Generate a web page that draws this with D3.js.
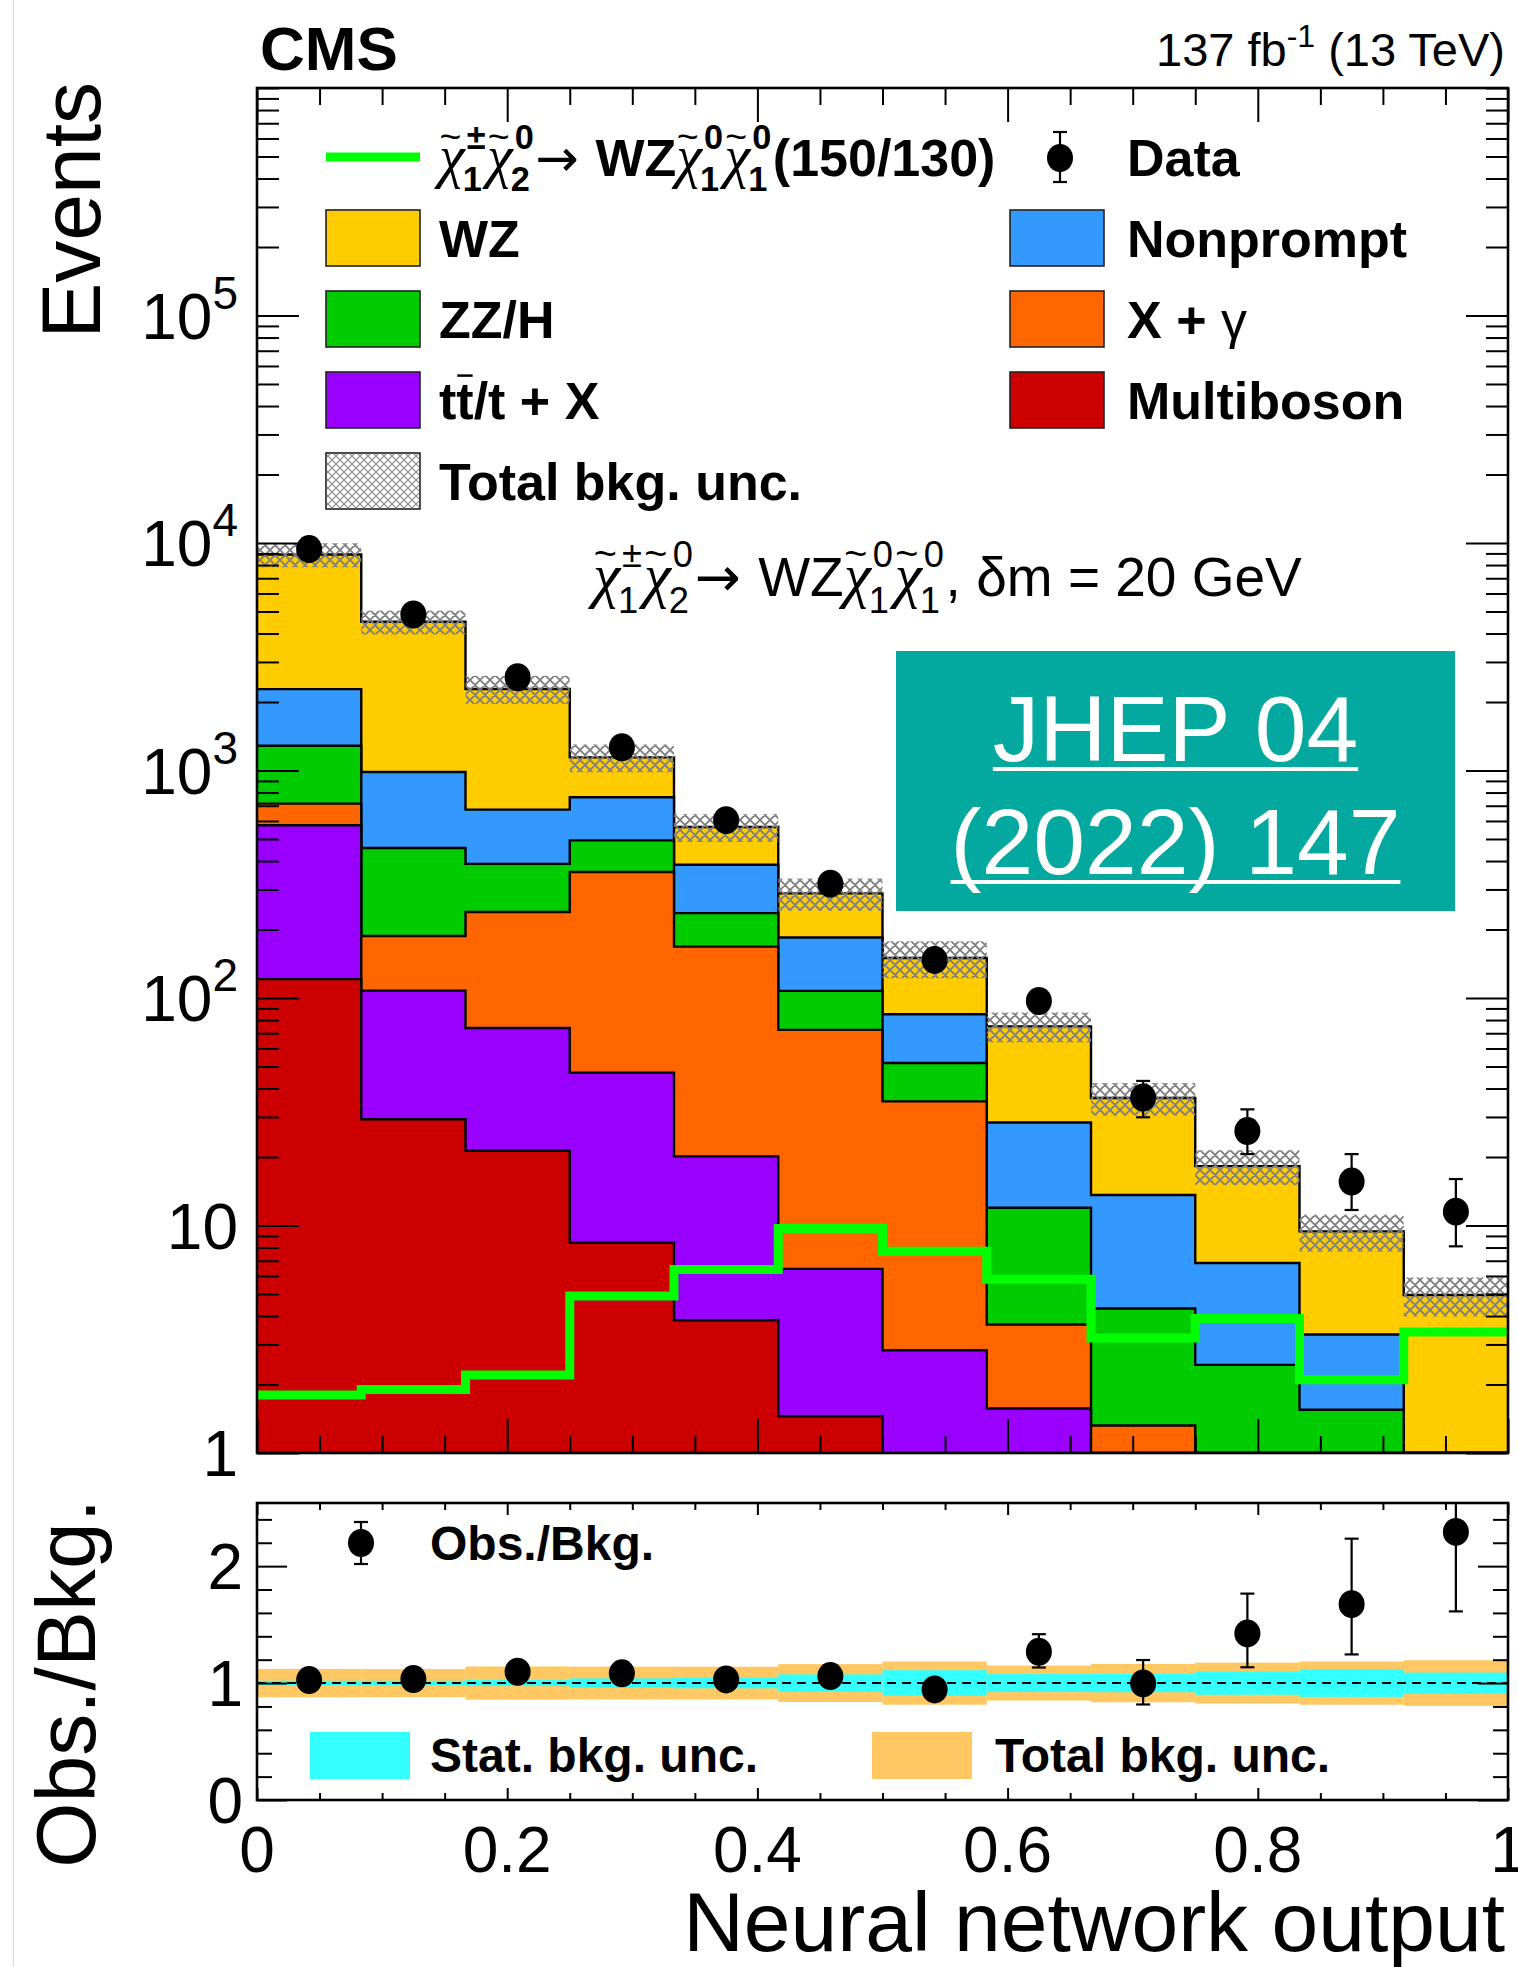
<!DOCTYPE html>
<html>
<head>
<meta charset="utf-8">
<script src="https://cdn.jsdelivr.net/npm/d3@7"></script>
<style>
  body { margin: 0; background: #fff; }
  svg text { font-family: "Liberation Sans", Arial, Helvetica, sans-serif; }
</style>
</head>
<body>
<svg id="chart" width="1518" height="1967"></svg>
<script>
// Neural network output bins (12 equal bins)
const binEdges = [0, 1/12, 2/12, 3/12, 4/12, 5/12, 6/12, 7/12, 8/12, 9/12, 10/12, 11/12, 1];

// background yields per bin, stacked bottom -> top
const multiboson = [121, 29.3, 21.3, 8.4, 3.83, 1.45, 0.63, 0.42, 0.2, 0.1, 0.1, 0.1];
const ttX        = [454, 78.5, 52.5, 38.5, 16.3, 5.0, 2.2, 1.15, 0.42, 0.3, 0.2, 0.1];
const xGamma     = [140, 79.5, 165, 311, 148, 66, 32.3, 2.1, 0.7, 0.3, 0.3, 0.2];
const zzH        = [569, 269, 150, 135, 68, 35, 16.7, 8.3, 3.0, 1.74, 0.95, 0.2];
const nonprompt  = [995, 528, 284, 270, 149, 77, 33, 16.4, 9.3, 4.4, 1.77, 0.3];
const wz         = [6620, 3520, 1610, 379, 179, 104, 65, 46.7, 22.7, 11.4, 6.1, 4.05];

// signal chi1+- chi20 -> WZ chi10 chi10 (150/130)
const signal = [1.8, 1.9, 2.2, 4.9, 6.4, 9.7, 7.7, 5.8, 3.2, 3.9, 2.1, 3.4];

// observed data
const dataCounts = [9400, 4850, 2570, 1265, 605, 318, 147, 97, 36.5, 26, 15.6, 11.5];
const dataErrLo  = [97, 70, 51, 36, 25, 17.8, 12.1, 9.8, 6.6, 5.4, 3.9, 3.4];
const dataErrHi  = [97, 70, 51, 36, 25, 17.8, 12.1, 10.9, 6.7, 6.4, 5.0, 4.5];

// ratio panel
const ratio      = [1.026, 1.034, 1.097, 1.083, 1.031, 1.06, 0.946, 1.268, 0.997, 1.425, 1.675, 2.293];
const ratioErrLo = [0.012, 0.016, 0.022, 0.032, 0.045, 0.062, 0.08, 0.135, 0.18, 0.29, 0.43, 0.68];
const ratioErrHi = [0.012, 0.016, 0.022, 0.033, 0.046, 0.064, 0.085, 0.15, 0.2, 0.34, 0.56, 0.95];
const statUnc    = [0.02, 0.02, 0.026, 0.04, 0.045, 0.074, 0.11, 0.077, 0.078, 0.1, 0.118, 0.09];
const totalUnc   = [0.121, 0.12, 0.142, 0.14, 0.14, 0.162, 0.185, 0.15, 0.164, 0.175, 0.185, 0.195];

const yMajorTicks = [1, 10, 100, 1000, 10000, 100000];
const ratioLabels = [0, 1, 2];
const xTickLabels = ["0", "0.2", "0.4", "0.6", "0.8", "1"];

const bkgKeys   = ["multiboson", "ttX", "xGamma", "zzH", "nonprompt", "wz"];
const bkgColors = { multiboson: "#cc0000", ttX: "#9900ff", xGamma: "#ff6600",
                    zzH: "#00cc00", nonprompt: "#3399ff", wz: "#ffcc00" };

// layout
const LEFT = 257, RIGHT = 1508, TOP = 88, BOTTOM = 1453, RTOP = 1503, RBOTTOM = 1800;

const svg = d3.select("#chart");
const x  = d3.scaleLinear().domain([0, 1]).range([LEFT, RIGHT]);
const y  = d3.scaleLog().domain([1, 1e6]).range([BOTTOM, TOP]).clamp(true);
const yr = d3.scaleLinear().domain([0, 2.54]).range([RBOTTOM, RTOP]);

svg.append("rect").attr("width", 1518).attr("height", 1967).attr("fill", "#fff");
svg.append("line").attr("x1", 13.5).attr("x2", 13.5).attr("y1", 0).attr("y2", 1967)
  .attr("stroke", "#d8d8d8").attr("stroke-width", 1);

const defs = svg.append("defs");
defs.append("clipPath").attr("id", "clipUp").append("rect")
  .attr("x", LEFT).attr("y", TOP).attr("width", RIGHT - LEFT).attr("height", BOTTOM - TOP);
defs.append("clipPath").attr("id", "clipLo").append("rect")
  .attr("x", LEFT).attr("y", RTOP).attr("width", RIGHT - LEFT).attr("height", RBOTTOM - RTOP);
const hatch = defs.append("pattern").attr("id", "hatch").attr("patternUnits", "userSpaceOnUse")
  .attr("width", 10).attr("height", 10);
hatch.append("path").attr("d", "M0,0L10,10M0,10L10,0M-2,2L2,-2M8,12L12,8M-2,8L2,12M8,-2L12,2")
  .attr("stroke", "#7f7f7f").attr("stroke-width", 1.9);
const hatchSmall = defs.append("pattern").attr("id", "hatchSmall").attr("patternUnits", "userSpaceOnUse")
  .attr("width", 8).attr("height", 8);
hatchSmall.append("path").attr("d", "M0,0L8,8M0,8L8,0")
  .attr("stroke", "#8a8a8a").attr("stroke-width", 1.2);

// ---------- upper panel ----------
const table = ratio.map((_, i) => {
  const row = { lo: binEdges[i], hi: binEdges[i + 1] };
  row.multiboson = multiboson[i]; row.ttX = ttX[i]; row.xGamma = xGamma[i];
  row.zzH = zzH[i]; row.nonprompt = nonprompt[i]; row.wz = wz[i];
  return row;
});
const stacked = d3.stack().keys(bkgKeys)(table);
const totalBkg = stacked[stacked.length - 1].map(d => d[1]);

function stepPoints(vals) {
  const pts = [];
  vals.forEach((v, i) => { pts.push([binEdges[i], v]); pts.push([binEdges[i + 1], v]); });
  return pts;
}
const stepArea = d3.area().x(d => x(d[0])).y0(BOTTOM).y1(d => y(d[1]));
const stepLine = d3.line().x(d => x(d[0])).y(d => y(d[1]));

const gUp = svg.append("g").attr("clip-path", "url(#clipUp)");
// draw from the top of the stack down so the lower histograms sit in front
stacked.slice().reverse().forEach(s => {
  const pts = stepPoints(s.map(d => d[1]));
  gUp.append("path").attr("d", stepArea(pts)).attr("fill", bkgColors[s.key]);
  gUp.append("path").attr("d", stepLine(pts)).attr("fill", "none")
    .attr("stroke", "#000").attr("stroke-width", 2.4);
});

// total background uncertainty (hatched)
gUp.selectAll("rect.unc").data(totalBkg).join("rect").attr("class", "unc")
  .attr("x", (d, i) => x(binEdges[i]))
  .attr("width", (d, i) => x(binEdges[i + 1]) - x(binEdges[i]))
  .attr("y", (d, i) => y(d * (1 + totalUnc[i])))
  .attr("height", (d, i) => y(d * (1 - totalUnc[i])) - y(d * (1 + totalUnc[i])))
  .attr("fill", "url(#hatch)");

// signal
gUp.append("path").attr("d", stepLine(stepPoints(signal))).attr("fill", "none")
  .attr("stroke", "#00ff00").attr("stroke-width", 9).attr("stroke-linejoin", "miter");

// data points
const R = 13;
function errBar(g, cx, y1, y2, cap) {
  g.append("line").attr("x1", cx).attr("x2", cx).attr("y1", y1).attr("y2", y2)
    .attr("stroke", "#000").attr("stroke-width", 2.2);
  [y1, y2].forEach(yy => g.append("line").attr("x1", cx - cap).attr("x2", cx + cap)
    .attr("y1", yy).attr("y2", yy).attr("stroke", "#000").attr("stroke-width", 2.2));
}
dataCounts.forEach((d, i) => {
  const cx = x((binEdges[i] + binEdges[i + 1]) / 2);
  const yHi = y(d + dataErrHi[i]), yLo = y(d - dataErrLo[i]);
  if (yLo - yHi > 2 * R + 4) errBar(gUp, cx, yHi, yLo, 7);
  gUp.append("ellipse").attr("cx", cx).attr("cy", y(d)).attr("rx", R).attr("ry", R + 1).attr("fill", "#000");
});

// ---------- ratio panel ----------
const gLo = svg.append("g").attr("clip-path", "url(#clipLo)");
gLo.selectAll("rect.tot").data(totalUnc).join("rect").attr("class", "tot")
  .attr("x", (d, i) => x(binEdges[i])).attr("width", (d, i) => x(binEdges[i + 1]) - x(binEdges[i]))
  .attr("y", d => yr(1 + d)).attr("height", d => yr(1 - d) - yr(1 + d)).attr("fill", "#ffc862");
gLo.selectAll("rect.stat").data(statUnc).join("rect").attr("class", "stat")
  .attr("x", (d, i) => x(binEdges[i])).attr("width", (d, i) => x(binEdges[i + 1]) - x(binEdges[i]))
  .attr("y", d => yr(1 + d)).attr("height", d => yr(1 - d) - yr(1 + d)).attr("fill", "#33ffff");
gLo.append("line").attr("x1", LEFT).attr("x2", RIGHT).attr("y1", yr(1)).attr("y2", yr(1))
  .attr("stroke", "#000").attr("stroke-width", 2).attr("stroke-dasharray", "9,6");
ratio.forEach((r, i) => {
  const cx = x((binEdges[i] + binEdges[i + 1]) / 2);
  const yHi = yr(r + ratioErrHi[i]), yLo = yr(r - ratioErrLo[i]);
  if (yLo - yHi > 2 * R + 4) errBar(gLo, cx, yHi, yLo, 7);
  gLo.append("ellipse").attr("cx", cx).attr("cy", yr(r)).attr("rx", R).attr("ry", R + 1).attr("fill", "#000");
});

// ---------- axes ----------
const gAx = svg.append("g").attr("stroke", "#000");
function ticks(scale, vals, orient, pos, len) {
  let ax;
  if (orient === "left") ax = d3.axisLeft(scale);
  if (orient === "right") ax = d3.axisRight(scale);
  if (orient === "top") ax = d3.axisTop(scale);
  if (orient === "bottom") ax = d3.axisBottom(scale);
  ax.tickValues(vals).tickSizeInner(-len).tickSizeOuter(0).tickFormat("");
  const tr = (orient === "left" || orient === "right") ? `translate(${pos},0)` : `translate(0,${pos})`;
  const g = gAx.append("g").attr("transform", tr).call(ax);
  g.select(".domain").remove();
  g.selectAll("line").attr("stroke", "#000").attr("stroke-width", 2);
}
const yAll = y.ticks();
const yMinor = yAll.filter(v => !yMajorTicks.includes(v));
const xAll = x.ticks(20);
const xMajor = xAll.filter(v => Math.abs(v * 5 - Math.round(v * 5)) < 1e-6);
const xMinor = xAll.filter(v => !xMajor.includes(v));
const rAll = yr.ticks(12);
const rMajor = rAll.filter(v => Math.abs(v - Math.round(v)) < 1e-6);
const rMinor = rAll.filter(v => !rMajor.includes(v));

ticks(y, yMajorTicks, "left", LEFT, 42);  ticks(y, yMinor, "left", LEFT, 22);
ticks(y, yMajorTicks, "right", RIGHT, 42); ticks(y, yMinor, "right", RIGHT, 22);
ticks(x, xMajor, "top", TOP, 34);   ticks(x, xMinor, "top", TOP, 17);
ticks(x, xMajor, "bottom", BOTTOM, 34); ticks(x, xMinor, "bottom", BOTTOM, 17);
ticks(yr, rMajor, "left", LEFT, 30);  ticks(yr, rMinor, "left", LEFT, 15);
ticks(yr, rMajor, "right", RIGHT, 30); ticks(yr, rMinor, "right", RIGHT, 15);
ticks(x, xMajor, "top", RTOP, 12);   ticks(x, xMinor, "top", RTOP, 7);
ticks(x, xMajor, "bottom", RBOTTOM, 12); ticks(x, xMinor, "bottom", RBOTTOM, 7);

svg.append("rect").attr("x", LEFT).attr("y", TOP).attr("width", RIGHT - LEFT).attr("height", BOTTOM - TOP)
  .attr("fill", "none").attr("stroke", "#000").attr("stroke-width", 2.6);
svg.append("rect").attr("x", LEFT).attr("y", RTOP).attr("width", RIGHT - LEFT).attr("height", RBOTTOM - RTOP)
  .attr("fill", "none").attr("stroke", "#000").attr("stroke-width", 2.6);

// tick labels
const gLab = svg.append("g").attr("fill", "#000");
yMajorTicks.forEach(v => {
  const e = Math.round(Math.log10(v));
  const t = gLab.append("text").attr("x", 238).attr("y", y(v) + 23)
    .attr("text-anchor", "end").attr("font-size", 64);
  if (e < 2) t.text(v);
  else {
    t.append("tspan").text("10");
    t.append("tspan").attr("font-size", 46).attr("dy", -30).text(e);
  }
});
ratioLabels.forEach(v => {
  gLab.append("text").attr("x", 243).attr("y", yr(v) + 23).attr("text-anchor", "end")
    .attr("font-size", 64).text(v);
});
xTickLabels.forEach(s => {
  gLab.append("text").attr("x", x(+s)).attr("y", 1872).attr("text-anchor", "middle")
    .attr("font-size", 64).text(s);
});

// axis titles
gLab.append("text").attr("transform", "translate(100,82) rotate(-90)").attr("text-anchor", "end")
  .attr("font-size", 84).text("Events");
gLab.append("text").attr("transform", `translate(95,${RTOP - 4}) rotate(-90)`).attr("text-anchor", "end")
  .attr("font-size", 84).text("Obs./Bkg.");
gLab.append("text").attr("x", 1505).attr("y", 1951).attr("text-anchor", "end")
  .attr("font-size", 84).text("Neural network output");

// header
gLab.append("text").attr("x", 260).attr("y", 70).attr("font-size", 62).attr("font-weight", "bold").text("CMS");
const lumi = gLab.append("text").attr("x", 1505).attr("y", 66).attr("text-anchor", "end").attr("font-size", 47);
lumi.append("tspan").text("137 fb");
lumi.append("tspan").attr("font-size", 32).attr("dy", -19).text("-1");
lumi.append("tspan").attr("dy", 19).text(" (13 TeV)");

// ---------- text helpers for the chargino / neutralino symbols ----------
function word(g, x0, base, size, weight, s) {
  const t = g.append("text").attr("x", x0).attr("y", base).attr("font-size", size)
    .attr("font-weight", weight).style("white-space", "pre").text(s);
  return x0 + t.node().getComputedTextLength();
}
function arrow(g, x0, base, size) {
  const t = g.append("text").attr("x", x0).attr("y", base).attr("font-size", size)
    .style("font-family", '"DejaVu Sans", sans-serif').style("white-space", "pre").text("\u2192 ");
  return x0 + t.node().getComputedTextLength();
}
function chi(g, x0, base, size, weight, sup, sub) {
  const t = g.append("text").attr("x", x0).attr("y", base).attr("font-size", size * 1.12)
    .style("font-family", '"Liberation Serif", "DejaVu Serif", serif').style("font-style", "italic")
    .text("\u03c7");
  const w = t.node().getComputedTextLength();
  g.append("text").attr("x", x0 + w * 0.45).attr("y", base - size * 0.52).attr("text-anchor", "middle")
    .attr("font-size", size * 0.72).text("~");
  const a = g.append("text").attr("x", x0 + w + 2).attr("y", base - size * 0.52).attr("font-size", size * 0.66)
    .attr("font-weight", weight).text(sup);
  const b = g.append("text").attr("x", x0 + w - 2).attr("y", base + size * 0.3).attr("font-size", size * 0.66)
    .attr("font-weight", weight).text(sub);
  return x0 + w + Math.max(a.node().getComputedTextLength() + 2, b.node().getComputedTextLength()) + size * 0.03;
}

// ---------- legend ----------
const gLeg = svg.append("g");
const rowY = [157, 238, 319, 400, 481];
const LS = 52;
const base = cy => cy + 18.6;
function legBox(xb, cy, fill) {
  gLeg.append("rect").attr("x", xb).attr("y", cy - 28).attr("width", 94).attr("height", 56)
    .attr("fill", fill).attr("stroke", "#222").attr("stroke-width", 1.6);
}

gLeg.append("line").attr("x1", 326).attr("x2", 420).attr("y1", rowY[0]).attr("y2", rowY[0])
  .attr("stroke", "#00ff00").attr("stroke-width", 9);
let cx = 439;
cx = chi(gLeg, cx, base(rowY[0]), LS, "bold", "\u00b1", "1");
cx = chi(gLeg, cx, base(rowY[0]), LS, "bold", "0", "2");
cx = arrow(gLeg, cx, base(rowY[0]), LS);
cx = word(gLeg, cx, base(rowY[0]), LS, "bold", "WZ");
cx = chi(gLeg, cx, base(rowY[0]), LS, "bold", "0", "1");
cx = chi(gLeg, cx, base(rowY[0]), LS, "bold", "0", "1");
word(gLeg, cx, base(rowY[0]), LS, "bold", "(150/130)");

errBar(gLeg, 1060, rowY[0] - 25, rowY[0] + 25, 7);
gLeg.append("ellipse").attr("cx", 1060).attr("cy", rowY[0] + 1).attr("rx", R).attr("ry", R + 1).attr("fill", "#000");
word(gLeg, 1127, base(rowY[0]), LS, "bold", "Data");

legBox(326, rowY[1], bkgColors.wz);        word(gLeg, 439, base(rowY[1]), LS, "bold", "WZ");
legBox(1010, rowY[1], bkgColors.nonprompt); word(gLeg, 1127, base(rowY[1]), LS, "bold", "Nonprompt");
legBox(326, rowY[2], bkgColors.zzH);       word(gLeg, 439, base(rowY[2]), LS, "bold", "ZZ/H");
legBox(1010, rowY[2], bkgColors.xGamma);
let gx = word(gLeg, 1127, base(rowY[2]), LS, "bold", "X + ");
word(gLeg, gx, base(rowY[2]), LS, "normal", "\u03b3");
legBox(326, rowY[3], bkgColors.ttX);
const ttText = gLeg.append("text").attr("x", 439).attr("y", base(rowY[3])).attr("font-size", LS)
  .attr("font-weight", "bold").text("tt/t + X");
const tb0 = ttText.node().getStartPositionOfChar(1).x, tb1 = ttText.node().getEndPositionOfChar(1).x;
gLeg.append("line").attr("x1", tb0 + 1).attr("x2", tb1 - 1).attr("y1", base(rowY[3]) - 43).attr("y2", base(rowY[3]) - 43)
  .attr("stroke", "#000").attr("stroke-width", 2.5);
legBox(1010, rowY[3], bkgColors.multiboson); word(gLeg, 1127, base(rowY[3]), LS, "bold", "Multiboson");
gLeg.append("rect").attr("x", 326).attr("y", rowY[4] - 28).attr("width", 94).attr("height", 56)
  .attr("fill", "#fff").attr("stroke", "#222").attr("stroke-width", 1.6);
gLeg.append("rect").attr("x", 327).attr("y", rowY[4] - 27).attr("width", 92).attr("height", 54)
  .attr("fill", "url(#hatchSmall)");
word(gLeg, 439, base(rowY[4]), LS, "bold", "Total bkg. unc.");

// process annotation
const AS = 55, ab = 596;
let ax = 593;
ax = chi(gLeg, ax, ab, AS, "normal", "\u00b1", "1");
ax = chi(gLeg, ax, ab, AS, "normal", "0", "2");
ax = arrow(gLeg, ax, ab, AS);
ax = word(gLeg, ax, ab, AS, "normal", "WZ");
ax = chi(gLeg, ax, ab, AS, "normal", "0", "1");
ax = chi(gLeg, ax, ab, AS, "normal", "0", "1");
word(gLeg, ax, ab, AS, "normal", ", \u03b4m = 20 GeV");

// ratio legend
errBar(gLeg, 361, 1522, 1564, 7);
gLeg.append("ellipse").attr("cx", 361).attr("cy", 1543).attr("rx", R).attr("ry", R + 1).attr("fill", "#000");
word(gLeg, 430, 1560, 48, "bold", "Obs./Bkg.");
gLeg.append("rect").attr("x", 310).attr("y", 1732).attr("width", 100).attr("height", 47).attr("fill", "#33ffff");
word(gLeg, 430, 1772, 48, "bold", "Stat. bkg. unc.");
gLeg.append("rect").attr("x", 872).attr("y", 1732).attr("width", 100).attr("height", 47).attr("fill", "#ffc862");
word(gLeg, 995, 1772, 48, "bold", "Total bkg. unc.");

// journal reference box
const gJ = svg.append("g");
gJ.append("rect").attr("x", 896).attr("y", 651).attr("width", 559).attr("height", 260).attr("fill", "#03a89e");
[["JHEP 04", 761], ["(2022) 147", 874]].forEach(([s, b]) => {
  const t = gJ.append("text").attr("x", 1175.5).attr("y", b).attr("text-anchor", "middle")
    .attr("font-size", 93).attr("fill", "#fff").text(s);
  const w = t.node().getComputedTextLength();
  gJ.append("line").attr("x1", 1175.5 - w / 2).attr("x2", 1175.5 + w / 2).attr("y1", b + 8).attr("y2", b + 8)
    .attr("stroke", "#fff").attr("stroke-width", 4);
});
</script>
</body>
</html>
